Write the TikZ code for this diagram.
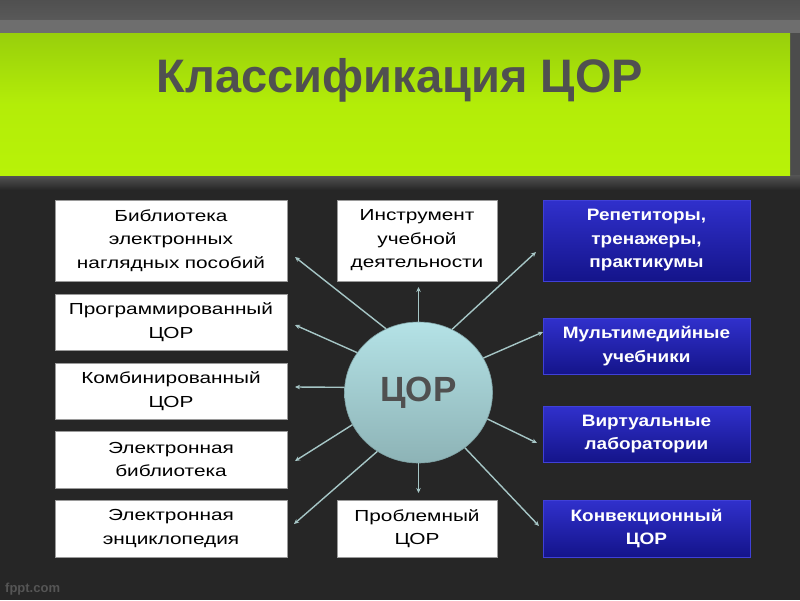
\documentclass[tikz,border=0pt]{standalone}
\usepackage{fontspec}
\setmainfont{Liberation Sans}
\newfontfamily\boxfont[FakeStretch=1.3]{Liberation Sans}
\newfontfamily\boxfontb[FakeStretch=1.15]{Liberation Sans}
\usetikzlibrary{shapes.geometric,arrows.meta}
\definecolor{bgdark}{HTML}{262626}
\definecolor{topgray}{HTML}{595959}
\definecolor{stripgray}{HTML}{6E6E6E}
\definecolor{shadegray}{HTML}{555555}
\definecolor{greentop}{HTML}{98CF0B}
\definecolor{greenbot}{HTML}{B8F208}
\definecolor{titlegray}{HTML}{505050}
\definecolor{bluetop}{HTML}{3030CC}
\definecolor{bluebot}{HTML}{14148A}
\definecolor{blueedge}{HTML}{4040D8}
\definecolor{circtop}{HTML}{B4E2E6}
\definecolor{circbot}{HTML}{8DB3B6}
\definecolor{circedge}{HTML}{7FA2A5}
\definecolor{linecol}{HTML}{A6C6C6}
\definecolor{wboxedge}{HTML}{9A9A9A}
\definecolor{markgray}{HTML}{555555}
\tikzset{
  wbox/.style={draw=wboxedge, line width=0.8pt, fill=white, align=center,
    text=black, inner sep=2pt,
    font=\boxfont\fontsize{16}{23.5}\selectfont},
  bbox/.style={draw=blueedge, line width=1pt, top color=bluetop, bottom color=bluebot,
    align=center, text=white, inner sep=2pt,
    font=\boxfontb\bfseries\fontsize{16.5}{23.5}\selectfont},
  spoke/.style={draw=linecol, line width=1.4pt, -{Stealth[length=5pt,width=4.5pt]}},
}
\begin{document}
\begin{tikzpicture}[x=1pt,y=-1pt]
\useasboundingbox (0,0) rectangle (800,600);
% background
\fill[bgdark] (0,0) rectangle (800,600);
\shade[top color=topgray!90!black, bottom color=topgray] (0,0) rectangle (800,20);
\fill[stripgray] (0,20) rectangle (800,33);
\fill[shadegray!90!black] (788,33) rectangle (800,175);
\shade[top color=shadegray, bottom color=bgdark] (0,175) rectangle (800,190);
\shade[top color=greentop, bottom color=greenbot, middle color=greenbot!85!greentop] (0,33) rectangle (790,175);
% title
\node[text=titlegray, font=\bfseries\fontsize{47}{50}\selectfont, anchor=base] (title) at (400,92) {Классификация ЦОР};
% watermark
\node[text=markgray, font=\bfseries\fontsize{13}{14}\selectfont, anchor=base west, inner sep=0pt] (mark) at (5,592) {fppt.com};
% circle
\node[ellipse, minimum width=148pt, minimum height=141pt, draw=circedge, line width=0.6pt,
  top color=circtop, bottom color=circbot, text=titlegray,
  font=\bfseries\fontsize{35}{38}\selectfont] (c) at (418.5,392.5) {ЦОР};
% left boxes
\node[wbox, minimum width=232pt, minimum height=81pt, text width=225pt] (l1) at (171,240.5) {Библиотека\\электронных\\наглядных пособий};
\node[wbox, minimum width=232pt, minimum height=56pt, text width=225pt] (l2) at (171,322) {Программированный\\ЦОР};
\node[wbox, minimum width=232pt, minimum height=56pt, text width=225pt] (l3) at (171,391) {Комбинированный\\ЦОР};
\node[wbox, minimum width=232pt, minimum height=57pt, text width=225pt] (l4) at (171,459.5) {Электронная\\библиотека};
\node[wbox, minimum width=232pt, minimum height=57pt, text width=225pt] (l5) at (171,528.5) {Электронная\\энциклопедия};
% middle boxes
\node[wbox, minimum width=160pt, minimum height=81pt, text width=155pt] (m1) at (417,240.5) {Инструмент\\учебной\\деятельности};
\node[wbox, minimum width=160pt, minimum height=57pt, text width=155pt] (m2) at (417,528.5) {Проблемный\\ЦОР};
% right boxes
\node[bbox, minimum width=207pt, minimum height=81pt, text width=200pt] (r1) at (646.5,240.5) {Репетиторы,\\тренажеры,\\практикумы};
\node[bbox, minimum width=207pt, minimum height=56pt, text width=200pt] (r2) at (646.5,346) {Мультимедийные\\учебники};
\node[bbox, minimum width=207pt, minimum height=56pt, text width=200pt] (r3) at (646.5,434) {Виртуальные\\лаборатории};
\node[bbox, minimum width=207pt, minimum height=57pt, text width=200pt] (r4) at (646.5,528.5) {Конвекционный\\ЦОР};
% arrow tips
\coordinate (t1) at (295,257);
\coordinate (t2) at (295,325);
\coordinate (t3) at (295,387);
\coordinate (t4) at (295,461);
\coordinate (t5) at (294,524);
\coordinate (t6) at (418.5,287);
\coordinate (t7) at (418.5,493);
\coordinate (t8) at (536,252);
\coordinate (t9) at (543,332);
\coordinate (t10) at (537,443);
\coordinate (t11) at (539,526);
% spokes
\draw[spoke] (c.117.5) -- (t1);
\draw[spoke] (c.147.5) -- (t2);
\draw[spoke] (c.176) -- (t3);
\draw[spoke] (c.206) -- (t4);
\draw[spoke] (c.235) -- (t5);
\draw[spoke] (c.north) -- (t6);
\draw[spoke] (c.south) -- (t7);
\draw[spoke] (c.62) -- (t8);
\draw[spoke] (c.28) -- (t9);
\draw[spoke] (c.339) -- (t10);
\draw[spoke] (c.310) -- (t11);
\end{tikzpicture}
\end{document}
